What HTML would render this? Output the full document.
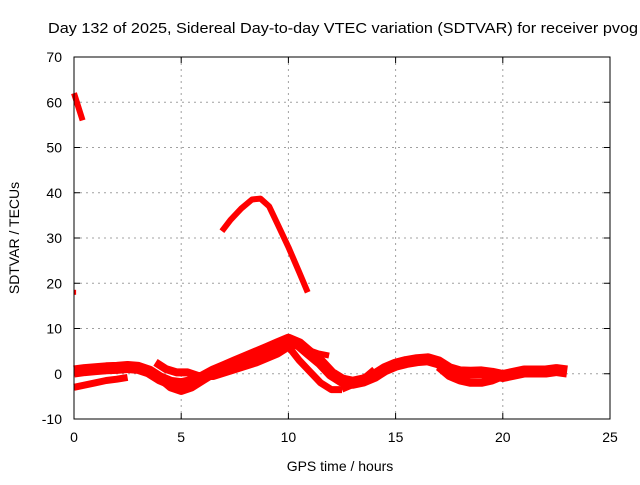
<!DOCTYPE html>
<html><head><meta charset="utf-8"><style>
body{margin:0;background:#fff;}
svg text{font-family:"Liberation Sans",sans-serif;font-size:14px;fill:#000;}
</style></head><body>
<svg id="chart" width="640" height="480" xmlns="http://www.w3.org/2000/svg">
<text x="48" y="33" textLength="590" lengthAdjust="spacingAndGlyphs" style="font-size:15px">Day 132 of 2025, Sidereal Day-to-day VTEC variation (SDTVAR) for receiver pvog</text>
<text x="340" y="471" text-anchor="middle">GPS time / hours</text>
<text transform="translate(19,238) rotate(-90)" text-anchor="middle">SDTVAR / TECUs</text>
<g id="grid"></g><g id="ticks"></g><g id="series"></g>
<rect x="74" y="57" width="536" height="362" fill="none" stroke="#000" stroke-width="1"/>
</svg>
<script>
const xTicks=[0,5,10,15,20,25];
const yTicks=[-10,0,10,20,30,40,50,60,70];
const trackTopX=[0,0.2,0.4];
const trackTopY=[62,59,56];
const trackArcX=[6.9,7.3,7.8,8.3,8.7,9.1,9.5,10,10.5,10.9];
const trackArcY=[31.5,34,36.5,38.5,38.7,37,33,28,22.5,18];
const trackDotX=[0,0.1];
const trackDotY=[18,18];
const trackMainX=[0,0.5,1,1.5,2,2.5,3,3.5,4,4.5,5,5.5,6,6.5,7,7.5,8,8.5,9,9.5,10,10.5,11,11.5,12,12.5,13,13.5,14,14.5,15,15.5,16,16.5,17,17.5,18,18.5,19,19.5,20,20.5,21,21.5,22,22.5,23];
const trackMainY=[0.5,0.8,1,1.2,1.3,1.5,1.3,0.5,-1,-2,-2.3,-1.8,-0.8,0.5,1.5,2.5,3.5,4.5,5.5,6.5,7.5,6.5,4.5,2.5,0,-1.5,-2,-1.5,-0.5,1,2,2.6,3,3.2,2.5,1,0.3,0.2,0.3,0,-0.5,0,0.5,0.5,0.5,0.8,0.5];
const trackLowX=[0,0.5,1,1.5,2,2.5];
const trackLowY=[-3,-2.5,-2,-1.5,-1.2,-0.8];
const trackBX=[3.8,4.3,4.8,5.3,5.8,6.5,7.5,8.5,9.5,10];
const trackBY=[2.5,1,0.3,0.3,-0.5,-0.5,1,2.5,4.5,6];
const trackCX=[4,4.5,5,5.5,6,6.5,7,7.5,8];
const trackCY=[-1,-3,-3.8,-3,-1.5,0,1,2,2.5];
const trackDX=[10,10.5,11,11.5,12,12.5];
const trackDY=[6,3,0.5,-2,-3.5,-3.5];
const trackEX=[10.2,10.8,11.4,11.9];
const trackEY=[7,5.5,4.5,4];
const trackFX=[17,17.5,18,18.5,19,19.5,20];
const trackFY=[1.5,-0.5,-1.5,-2,-2,-1.5,-0.5];
const trackGX=[12.5,13,13.5,14];
const trackGY=[-3.5,-2.5,-1,1];
const X0=74,X1=610,Y0=419,Y1=57;
const xs=v=>X0+(v-0)/25*(X1-X0);
const ys=v=>Y0-(v+10)/80*(Y0-Y1);
const NS='http://www.w3.org/2000/svg';
const grid=document.getElementById('grid'),ticks=document.getElementById('ticks'),ser=document.getElementById('series');
function mk(tag,attrs,parent){const e=document.createElementNS(NS,tag);for(const k in attrs)e.setAttribute(k,attrs[k]);parent.appendChild(e);return e;}
xTicks.forEach(t=>{const x=xs(t);
 if(t>0&&t<25){const g=mk('line',{x1:x,x2:x,y1:Y1,y2:Y0,stroke:'#a0a0a0','stroke-dasharray':'2,4'},grid);
 
 }
 mk('line',{x1:x,x2:x,y1:Y0,y2:Y0-6,stroke:'#000'},ticks);
 mk('line',{x1:x,x2:x,y1:Y1,y2:Y1+6,stroke:'#000'},ticks);
 const l=mk('text',{x:x,y:Y0+23,'text-anchor':'middle'},ticks);l.textContent=t;
 
 
});
yTicks.forEach(t=>{const y=ys(t);
 if(t>-10&&t<70){const g=mk('line',{x1:X0,x2:X1,y1:y,y2:y,stroke:'#a0a0a0','stroke-dasharray':'2,4'},grid);
 
 }
 mk('line',{x1:X0,x2:X0+6,y1:y,y2:y,stroke:'#000'},ticks);
 mk('line',{x1:X1,x2:X1-6,y1:y,y2:y,stroke:'#000'},ticks);
 const l=mk('text',{x:X0-12,y:y+5,'text-anchor':'end'},ticks);l.textContent=t;
 
 
});
const tracks=[[trackTopX,trackTopY,6],[trackArcX,trackArcY,6],[trackDotX,trackDotY,5],[trackMainX,trackMainY,12],[trackLowX,trackLowY,7],[trackBX,trackBY,8],[trackCX,trackCY,8],[trackDX,trackDY,7],[trackEX,trackEY,6],[trackFX,trackFY,8],[trackGX,trackGY,6]];
tracks.forEach(([tx,ty,w])=>{
 const pts=tx.map((x,i)=>xs(x).toFixed(1)+','+ys(ty[i]).toFixed(1)).join(' ');
 const p=mk('polyline',{points:pts,fill:'none',stroke:'#ff0000','stroke-width':w,'stroke-linejoin':'round','stroke-linecap':'butt'},ser);
 
 
});
</script>
</body></html>
